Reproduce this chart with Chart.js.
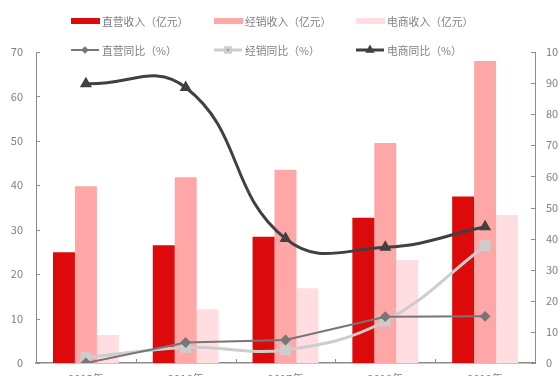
<!DOCTYPE html>
<html>
<head>
<meta charset="utf-8">
<script src="https://cdn.jsdelivr.net/npm/chart.js@4"></script>
<style>
  html, body { margin: 0; padding: 0; background: #fff; overflow: hidden; }
  #wrap { position: relative; width: 559px; height: 392px; }
</style>
</head>
<body>
<div id="wrap"><canvas id="salesChart"></canvas></div>
<script>
// categories + series
const years = ['2015年', '2016年', '2017年', '2018年', '2019年'];
const directRevenue = [24.9, 26.5, 28.4, 32.7, 37.5];
const dealerRevenue = [39.8, 41.8, 43.5, 49.5, 68.0];
const onlineRevenue = [6.3, 12.1, 16.8, 23.2, 33.3];
const directGrowth = [0, 6.6, 7.4, 14.9, 15.0];
const dealerGrowth = [1.7, 5.0, 4.2, 13.5, 37.7];
const onlineGrowth = [89.8, 88.6, 40.0, 37.2, 43.8];
const leftTicks = [0, 10, 20, 30, 40, 50, 60, 70];
const rightTicks = [0, 10, 20, 30, 40, 50, 60, 70, 80, 90, 100];

const axisGray = '#8c8c8c';
const textGray = '#808080';
const font = '"Noto Sans CJK SC", "Noto Sans", sans-serif';

// legend drawn in two rows of three, like the original
const legendPlugin = {
    id: 'twoRowLegend',
    afterDraw(chart) {
        const ctx = chart.ctx;
        const cols = [71, 214, 356];
        const rows = [21, 50];
        ctx.save();
        ctx.font = '10.8px ' + font;
        ctx.textBaseline = 'middle';
        chart.data.datasets.forEach((ds, i) => {
            const x = cols[i % 3];
            const y = rows[Math.floor(i / 3)];
            if (ds.type === 'bar') {
                ctx.fillStyle = ds.backgroundColor;
                ctx.fillRect(x, y - 3, 29, 6);
            } else {
                ctx.strokeStyle = ds.borderColor;
                ctx.lineWidth = ds.borderWidth;
                ctx.beginPath();
                ctx.moveTo(x, y);
                ctx.lineTo(x + 28, y);
                ctx.stroke();
                Chart.helpers.drawPoint(ctx, {
                    pointStyle: ds.pointStyle,
                    radius: ds.pointRadius * 0.6,
                    borderWidth: 1
                }, x + 14, y);
            }
            ctx.fillStyle = textGray;
            ctx.fillText(ds.label, x + 31, y + 0.5);
        });
        ctx.restore();
    }
};

// small tick marks pointing into the plot
const innerTicks = {
    id: 'innerTicks',
    afterDraw(chart) {
        const {ctx, chartArea, scales} = chart;
        ctx.save();
        ctx.strokeStyle = axisGray;
        ctx.lineWidth = 1;
        ctx.beginPath();
        leftTicks.forEach(v => {
            const y = Math.round(scales.y.getPixelForValue(v)) + 0.5;
            ctx.moveTo(chartArea.left, y);
            ctx.lineTo(chartArea.left + 4, y);
        });
        rightTicks.forEach(v => {
            const y = Math.round(scales.y1.getPixelForValue(v)) + 0.5;
            ctx.moveTo(chartArea.right, y);
            ctx.lineTo(chartArea.right - 4, y);
        });
        for (let i = 1; i < years.length; i++) {
            const x = Math.round((scales.x.getPixelForValue(i - 1) + scales.x.getPixelForValue(i)) / 2) + 0.5;
            ctx.moveTo(x, chartArea.bottom);
            ctx.lineTo(x, chartArea.bottom - 4);
        }
        ctx.stroke();
        ctx.restore();
    }
};

const ctx = document.getElementById('salesChart').getContext('2d');

const data = {
    labels: years,
    datasets: [
        { type: 'bar', label: '直营收入（亿元）', data: directRevenue, backgroundColor: '#dc0a0a', yAxisID: 'y', order: 1 },
        { type: 'bar', label: '经销收入（亿元）', data: dealerRevenue, backgroundColor: '#ffa7a7', yAxisID: 'y', order: 1 },
        { type: 'bar', label: '电商收入（亿元）', data: onlineRevenue, backgroundColor: '#ffdde0', yAxisID: 'y', order: 1 },
        {
            type: 'line', label: '直营同比（%）', data: directGrowth, yAxisID: 'y1',
            borderColor: '#767676', backgroundColor: '#767676', borderWidth: 2,
            pointStyle: 'rectRot', pointRadius: 4, tension: 0, order: 0
        },
        {
            type: 'line', label: '经销同比（%）', data: dealerGrowth, yAxisID: 'y1',
            borderColor: '#cdcdcd', backgroundColor: '#cdcdcd', borderWidth: 3,
            pointStyle: 'rect', pointRadius: 5.5, tension: 0.4, order: 0
        },
        {
            type: 'line', label: '电商同比（%）', data: onlineGrowth, yAxisID: 'y1',
            borderColor: '#404040', backgroundColor: '#555555', borderWidth: 3,
            pointStyle: 'triangle', pointRadius: 4, tension: 0.45, order: 0
        }
    ]
};

const config = {
    data: data,
    options: {
        responsive: true,
        maintainAspectRatio: false,
        animation: false,
        layout: { padding: { top: 52, left: 0, right: 0, bottom: 0 } },
        datasets: {
            bar: { categoryPercentage: 0.66, barPercentage: 1.0 }
        },
        scales: {
            x: {
                grid: { display: false, drawTicks: false },
                border: { color: axisGray, width: 1.5 },
                ticks: { color: textGray, font: { family: font, size: 11 }, padding: 9, maxRotation: 0 },
                afterFit(scale) { scale.height = 29; }
            },
            y: {
                position: 'left',
                min: 0, max: 70,
                grid: { display: false, drawTicks: false },
                border: { color: axisGray, width: 1 },
                ticks: { stepSize: 10, color: textGray, font: { family: font, size: 11 }, padding: 13 },
                afterFit(scale) { scale.width = 36; }
            },
            y1: {
                position: 'right',
                min: 0, max: 100,
                grid: { display: false, drawTicks: false },
                border: { color: axisGray, width: 1 },
                ticks: { stepSize: 10, color: textGray, font: { family: font, size: 11 }, padding: 11 },
                afterFit(scale) { scale.width = 24; }
            }
        },
        plugins: {
            legend: { display: false },
            tooltip: { enabled: false }
        }
    },
    plugins: [legendPlugin, innerTicks]
};

const salesChart = new Chart(ctx, config);
</script>
</body>
</html>
